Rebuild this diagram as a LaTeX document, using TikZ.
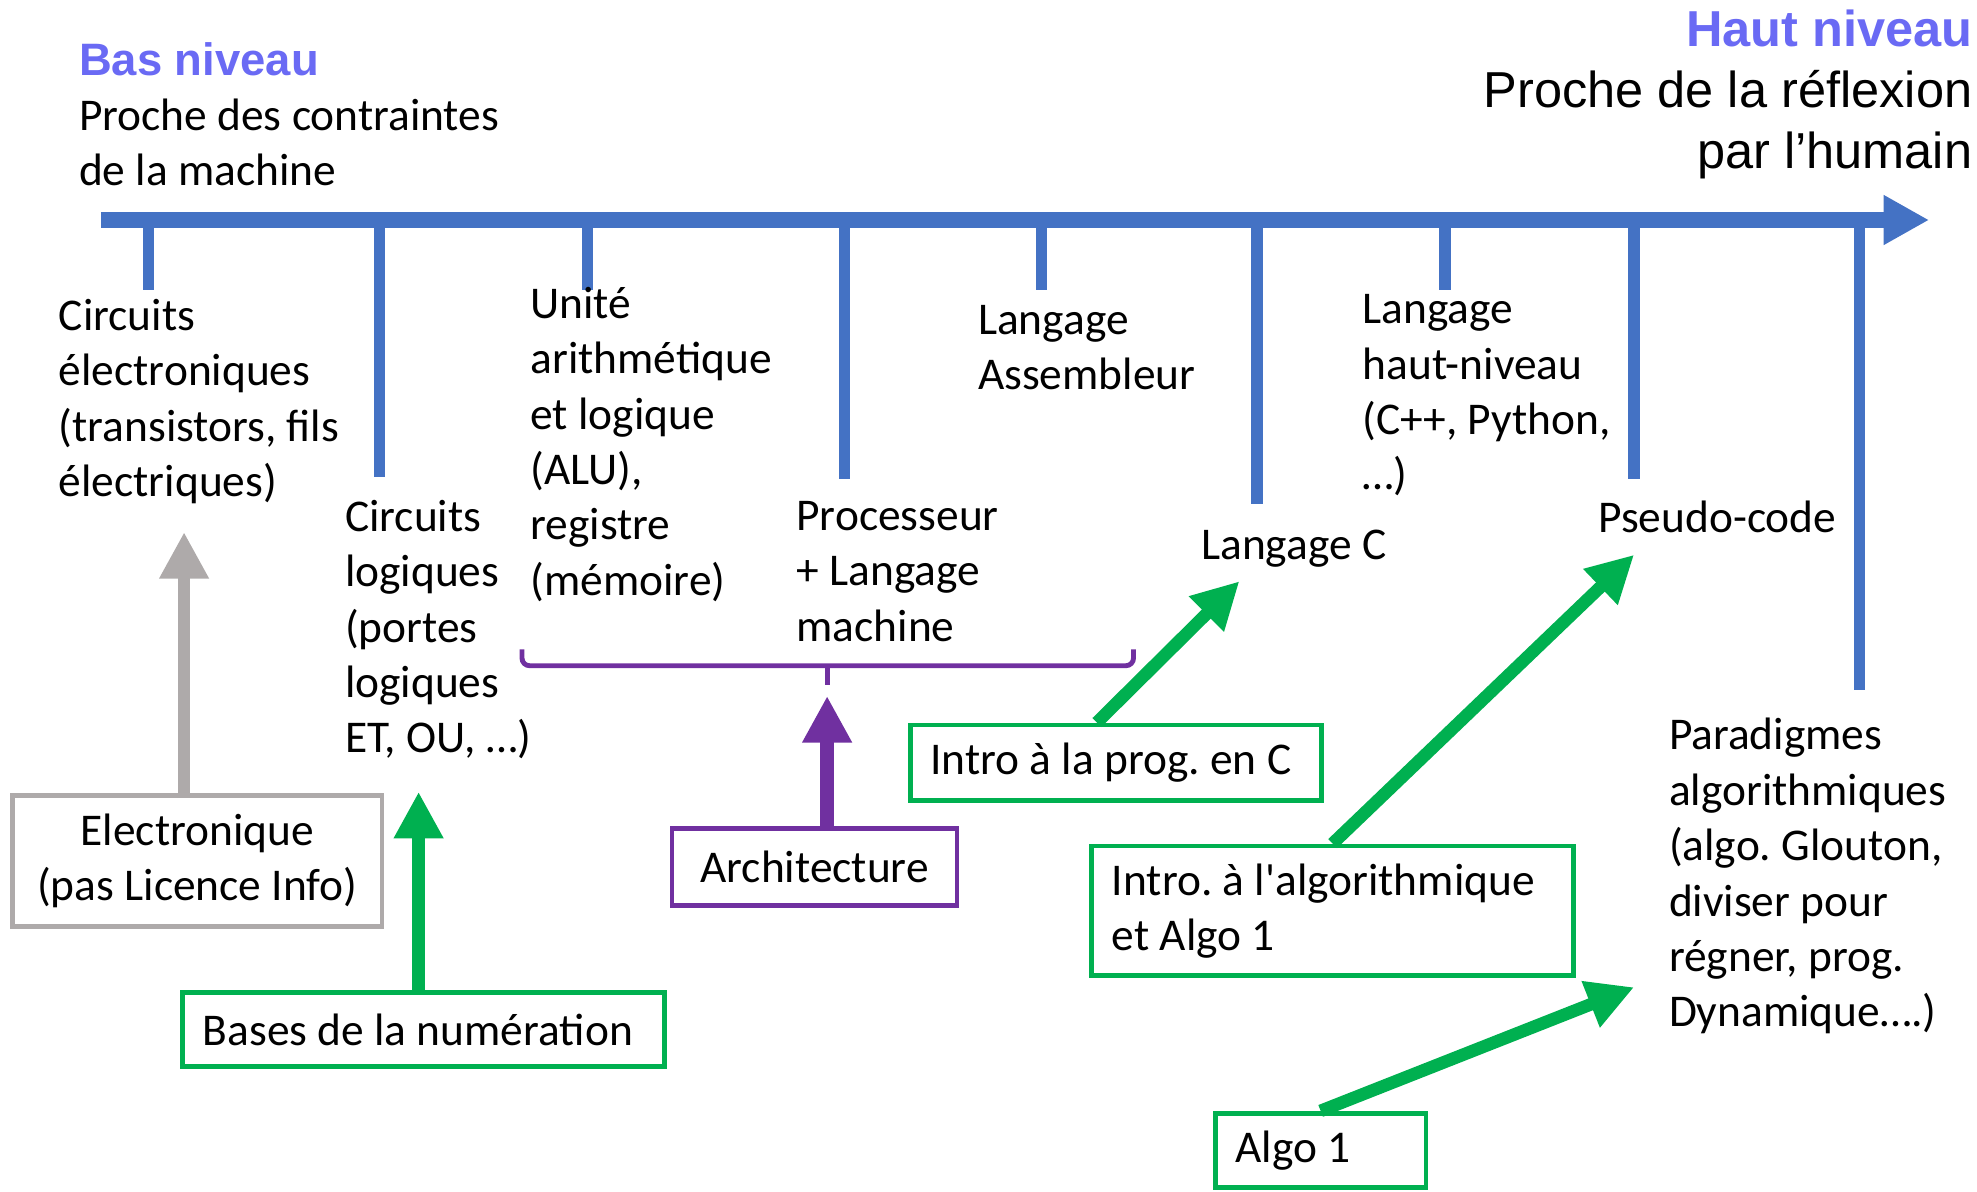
\documentclass[tikz,border=0pt]{standalone}
\usepackage{fontspec}
\setmainfont{Carlito}
\newfontfamily\arialfam{Liberation Sans}
\usetikzlibrary{arrows.meta}
\definecolor{axe}{HTML}{4472C4}
\definecolor{titre}{HTML}{6A6AF4}
\definecolor{vert}{HTML}{00B050}
\definecolor{violet}{HTML}{7030A0}
\definecolor{grisc}{HTML}{AEAAAA}
\newcommand\txtf{\fontsize{10.25}{12.5}\selectfont}
\newcommand\arialtxt{\arialfam\fontsize{11.4}{13.66}\selectfont}
\frenchspacing

\begin{document}
\begin{tikzpicture}[auto,
    lab/.style={anchor=north west, align=left, inner sep=0pt, font=\txtf,
      execute at begin node=\strut},
    boite/.style={draw, line width=1.1pt, fill=white, inner xsep=0.16cm,
      inner ysep=1pt, font=\txtf},
    gbox/.style={boite, draw=vert, align=flush left, anchor=west},
    fl/.style={line width=0.1cm, -{Triangle[length=0.37cm,width=0.37cm]}}]
      \useasboundingbox (0,0) rectangle (15.68,-9.45);
      % titres
      \node[anchor=base west, inner sep=0pt, text=titre,
        font=\arialfam\bfseries\fontsize{10.25}{12}\selectfont] (bas) at (0.62,-0.60) {Bas niveau};
      \node[lab] (pbas) at (0.62,-0.777) {Proche des contraintes\\de la machine};
      \node[anchor=base east, inner sep=0pt, text=titre,
        font=\arialfam\bfseries\fontsize{11.4}{13.66}\selectfont] (haut) at (15.65,-0.37) {Haut niveau};
      \node[anchor=north east, align=right, inner sep=0pt, font=\arialtxt,
        execute at begin node=\strut] (phaut) at (15.65,-0.553) {Proche de la réflexion\\par l’humain};
      % axe
      \coordinate (s) at (0.80,-1.745);
      \coordinate (e) at (15.30,-1.745);
      \draw[axe, line width=0.125cm, -{Triangle[length=0.36cm,width=0.37cm]}] (s) -- (e);
      \foreach \x/\y in {1.18/2.30, 3.01/3.78, 4.66/2.30, 6.70/3.80, 8.26/2.30,
          9.97/4.00, 11.46/2.30, 12.96/3.80, 14.75/5.47}
        \draw[axe, line width=0.09cm] (\x,-1.745) -- (\x,-\y);
      % niveaux
      \node[lab] (c1) at (0.46,-2.365) {Circuits\\électroniques\\(transistors, fils\\électriques)};
      \node[lab] (c2) at (2.73,-3.96) {Circuits\\logiques\\(portes\\logiques\\ET, OU, …)};
      \node[lab] (c3) at (4.20,-2.27) {Unité\\arithmétique\\et logique\\(ALU),\\registre\\(mémoire)};
      \node[lab] (c4) at (6.31,-3.97) {Processeur\\+ Langage\\machine};
      \node[lab] (c5) at (7.75,-2.415) {Langage\\Assembleur};
      \node[lab] (c6) at (9.52,-4.12) {Langage C};
      \node[lab] (c7) at (10.80,-2.33) {Langage\\haut-niveau\\(C++, Python,\\…)};
      \node[lab] (c8) at (12.67,-3.91) {Pseudo-code};
      \node[lab] (c9) at (13.23,-5.69) {Paradigmes\\algorithmiques\\(algo. Glouton,\\diviser pour\\régner, prog.\\Dynamique….)};
      % accolade
      \draw[violet, line width=1.1pt, rounded corners=0.06cm]
        (4.14,-5.15) -- (4.14,-5.28) -- (8.99,-5.28) -- (8.99,-5.15);
      \draw[violet, line width=1.1pt] (6.56,-5.28) -- (6.56,-5.43);
      % cours
      \node[boite, draw=grisc, align=center, minimum width=2.93cm, minimum height=1.04cm]
        (elec) at (1.565,-6.83) {Electronique\\(pas Licence Info)};
      \node[gbox, text width=3.50cm, minimum height=0.59cm] (bases) at (1.43,-8.165)
        {\mbox{Bases de la numération}};
      \node[boite, draw=violet, minimum width=2.26cm, minimum height=0.61cm]
        (archi) at (6.46,-6.875) {Architecture};
      \node[gbox, text width=2.94cm, minimum height=0.60cm] (introc) at (7.20,-6.05)
        {\mbox{Intro à la prog. en C}};
      \node[gbox, text width=3.50cm, minimum height=1.03cm] (introalgo) at (8.64,-7.225)
        {\mbox{Intro. à l\textquotesingle algorithmique}\\\mbox{et Algo 1}};
      \node[gbox, text width=1.35cm, minimum height=0.59cm] (algo) at (9.62,-9.125) {\mbox{Algo 1}};
      % fleches
      \coordinate (telec) at (1.46,-4.22);
      \coordinate (tlog) at (3.32,-6.28);
      \coordinate (tarch) at (6.56,-5.52);
      \coordinate (tc) at (9.83,-4.61);
      \coordinate (tpseudo) at (12.96,-4.40);
      \coordinate (tpara) at (12.96,-7.83);
      \draw[fl, grisc] (telec |- elec.north) -- (telec);
      \draw[fl, vert] (tlog |- bases.north) -- (tlog);
      \draw[fl, violet, line width=0.11cm] (tarch |- archi.north) -- (tarch);
      \draw[fl, vert] ([xshift=-0.15cm]introc.north) -- (tc);
      \draw[fl, vert] (introalgo.north) -- (tpseudo);
      \draw[fl, vert] (algo.north) -- (tpara);
    \end{tikzpicture}
\end{document}
